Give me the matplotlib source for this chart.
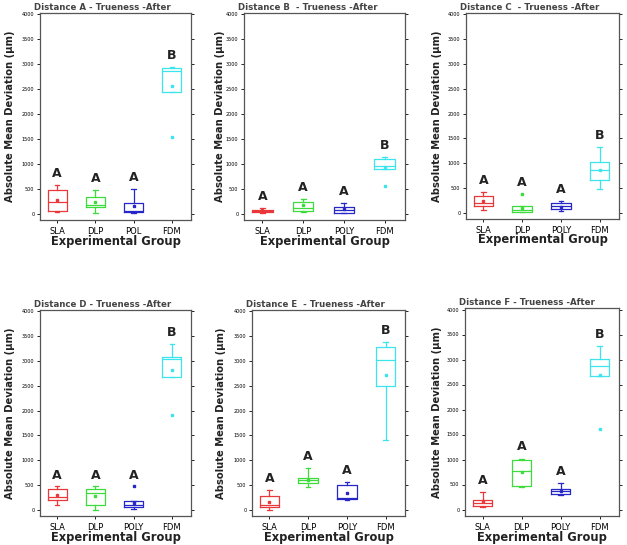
import matplotlib
matplotlib.use("Agg")
import matplotlib.pyplot as plt

groups_3 = ["SLA", "DLP", "POL", "FDM"]
groups_4 = ["SLA", "DLP", "POLY", "FDM"]
colors = ["#e8383b", "#3ddc3d", "#2727c8", "#3ce4ee"]

titles = ["Distance A - Trueness -After", "Distance B  - Trueness -After",
          "Distance C  - Trueness -After", "Distance D - Trueness -After",
          "Distance E  - Trueness -After", "Distance F - Trueness -After"]
letters = ["A", "A", "A", "B"]

# per panel, per group: whislo, q1, median, mean, q3, whishi
panel_A = [[30, 50, 230, 280, 470, 580],
           [15, 125, 175, 235, 330, 480],
           [20, 25, 60, 160, 220, 490],
           [2450, 2450, 2870, 2560, 2930, 2950]]
panel_B = [[20, 27, 53, 67, 80, 120],
           [27, 53, 120, 167, 241, 288],
           [20, 20, 67, 100, 134, 207],
           [903, 903, 957, 937, 1104, 1137]]
panel_C = [[54, 134, 187, 227, 335, 421],
           [20, 20, 60, 100, 134, 134],
           [27, 80, 134, 120, 187, 241],
           [482, 649, 850, 856, 1017, 1318]]
panel_D = [[100, 200, 247, 287, 413, 467],
           [0, 87, 333, 267, 413, 467],
           [20, 47, 100, 133, 167, 167],
           [2667, 2667, 3050, 2820, 3080, 3353]]
panel_E = [[0, 47, 100, 153, 267, 400],
           [447, 533, 587, 600, 633, 833],
           [187, 213, 233, 340, 493, 553],
           [1400, 2500, 3020, 2720, 3287, 3387]]
panel_F = [[53, 67, 133, 167, 187, 347],
           [447, 467, 780, 747, 1000, 1020],
           [300, 320, 373, 380, 420, 533],
           [2667, 2667, 2880, 2700, 3013, 3267]]
# outliers per panel, per group
fliers_A = [[], [], [], [1540]]
fliers_B = [[], [], [], [549]]
fliers_C = [[], [380], [], []]
fliers_D = [[], [], [467], [1913]]
fliers_E = [[], [], [], []]
fliers_F = [[], [], [], [1620]]

panels = [panel_A, panel_B, panel_C, panel_D, panel_E, panel_F]
fliers = [fliers_A, fliers_B, fliers_C, fliers_D, fliers_E, fliers_F]
xlabels = [groups_3, groups_4, groups_4, groups_4, groups_4, groups_4]

W, H = 627, 545
# left, right, top, bottom in pixels
boxes_px = [(40, 191, 13, 220), (244, 405, 13, 220), (466, 619, 13, 219),
            (40, 191, 310, 516), (252, 405, 310, 516), (465, 619, 308, 516)]
ylabel_x = [-0.167, -0.12, -0.16, -0.167, -0.167, -0.15]

fig = plt.figure(figsize=(W / 100, H / 100), dpi=100)
fig.patch.set_facecolor("white")

for i, (l, r, t, b) in enumerate(boxes_px):
    ax = fig.add_axes([l / W, (H - b) / H, (r - l) / W, (b - t) / H])
    stats = []
    for g, s in enumerate(panels[i]):
        stats.append(dict(whislo=s[0], q1=s[1], med=s[2], mean=s[3], q3=s[4],
                          whishi=s[5], fliers=fliers[i][g], label=xlabels[i][g]))
    for g in range(4):
        c = colors[g]
        ax.bxp([stats[g]], positions=[g + 1], widths=0.5, showmeans=True,
               capwidths=0.12,
               boxprops=dict(color=c, linewidth=0.9),
               medianprops=dict(color=c, linewidth=0.9),
               whiskerprops=dict(color=c, linewidth=0.9),
               capprops=dict(color=c, linewidth=0.9),
               meanprops=dict(marker="s", markersize=1.6, markerfacecolor=c,
                              markeredgecolor=c),
               flierprops=dict(marker="s", markersize=1.6, markerfacecolor=c,
                               markeredgecolor=c, linestyle="none"))
        top = max([stats[g]["whishi"]] + list(fliers[i][g]))
        ax.text(g + 1, top + 230, letters[g], ha="center", va="center",
                fontsize=9, fontweight="bold", color="#222222")
    ax.set_xlim(0.55, 4.5)
    ax.set_ylim(-130, 4030)
    ax.set_xticks(range(1, 5))
    ax.set_xticklabels(xlabels[i], fontsize=6)
    ax.set_yticks(range(0, 4001, 500))
    ax.tick_params(axis="y", labelsize=3.5, length=2, width=0.6, right=True,
                   direction="out", pad=2)
    ax.tick_params(axis="x", length=2, width=0.6, pad=3)
    for sp in ax.spines.values():
        sp.set_color("#555555")
        sp.set_linewidth(0.9)
    ax.set_ylabel("Absolute Mean Deviation (\u03bcm)", fontsize=7.2,
                  fontweight="bold", color="#222222")
    ax.yaxis.set_label_coords(ylabel_x[i], 0.5)
    ax.set_xlabel("Experimental Group", fontsize=8.3, fontweight="bold",
                  color="#222222", va="center")
    ax.xaxis.set_label_coords(0.5, -21 / (b - t))
    ax.set_title(titles[i], fontsize=6.2, fontweight="bold", color="#444444",
                 loc="left", x=-0.04, pad=2)

fig.savefig("out.png", dpi=100)
